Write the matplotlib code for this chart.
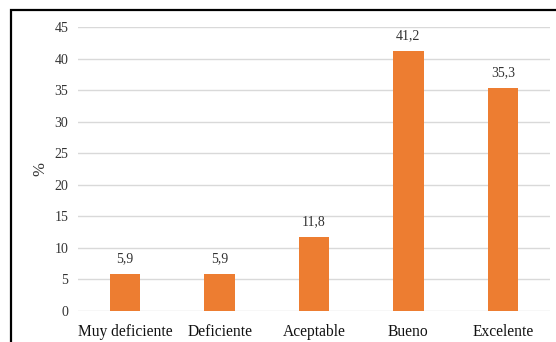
import matplotlib.pyplot as plt
from matplotlib.patches import Rectangle

categorias = ['Muy deficiente', 'Deficiente', 'Aceptable', 'Bueno', 'Excelente']
porcentajes = [5.9, 5.9, 11.8, 41.2, 35.3]
etiquetas = ['5,9', '5,9', '11,8', '41,2', '35,3']

plt.rcParams['font.family'] = ['Liberation Serif', 'DejaVu Serif']

fig = plt.figure(figsize=(5.56, 3.42), dpi=100)
ax = fig.add_axes([78 / 556, 1 - 311 / 342, 472 / 556, 284 / 342])

x = range(len(categorias))
ax.bar(x, porcentajes, width=0.32, color='#ED7D31', zorder=3)
for i, v in enumerate(porcentajes):
    ax.text(i, v + 1.4, etiquetas[i], ha='center', va='bottom', fontsize=10, color='#333333')

ax.set_xlim(-0.5, len(categorias) - 0.5)
ax.set_ylim(0, 45)
ax.set_yticks(range(0, 46, 5))
ax.set_xticks(list(x))
ax.set_xticklabels(categorias, fontsize=11.2, color='#111111')
ax.tick_params(axis='y', labelsize=10, colors='#333333', length=0, pad=7)
ax.tick_params(axis='x', length=0, pad=9)
ax.yaxis.grid(True, color='#d9d9d9', linewidth=1, zorder=0)
for s in ax.spines.values():
    s.set_visible(False)
ax.set_ylabel('%', fontsize=12, color='#333333', labelpad=4)

# marco del recuadro
fig.patches.append(Rectangle((11 / 556, -0.1), 1.2, 1.1 - 10 / 342, transform=fig.transFigure,
                             fill=False, edgecolor='black', linewidth=1.6))

fig.savefig('out.png', dpi=100)
